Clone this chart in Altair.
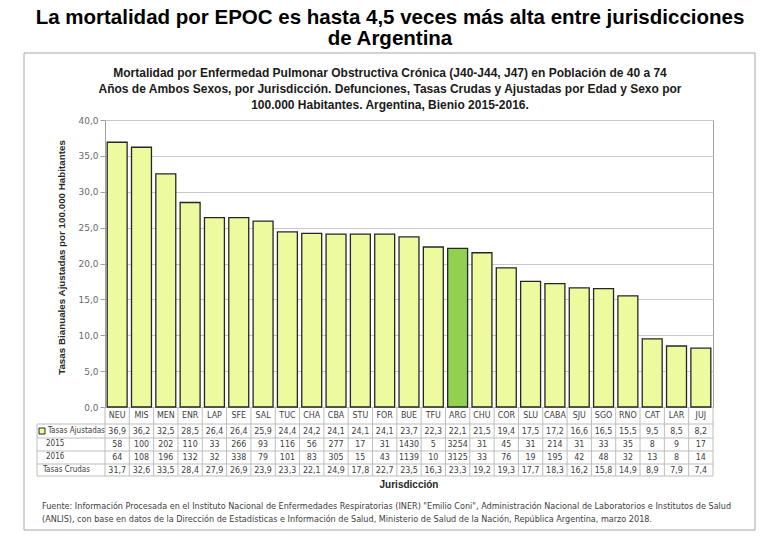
import altair as alt
import pandas as pd

# ---------------- data ----------------
cats = ["NEU", "MIS", "MEN", "ENR", "LAP", "SFE", "SAL", "TUC", "CHA", "CBA", "STU", "FOR", "BUE",
        "TFU", "ARG", "CHU", "COR", "SLU", "CABA", "SJU", "SGO", "RNO", "CAT", "LAR", "JUJ"]
tasas_ajustadas = [36.9, 36.2, 32.5, 28.5, 26.4, 26.4, 25.9, 24.4, 24.2, 24.1, 24.1, 24.1, 23.7,
                   22.3, 22.1, 21.5, 19.4, 17.5, 17.2, 16.6, 16.5, 15.5, 9.5, 8.5, 8.2]
def_2015 = [58, 100, 202, 110, 33, 266, 93, 116, 56, 277, 17, 31, 1430,
            5, 3254, 31, 45, 31, 214, 31, 33, 35, 8, 9, 17]
def_2016 = [64, 108, 196, 132, 32, 338, 79, 101, 83, 305, 15, 43, 1139,
            10, 3125, 33, 76, 19, 195, 42, 48, 32, 13, 8, 14]
tasas_crudas = [31.7, 32.6, 33.5, 28.4, 27.9, 26.9, 23.9, 23.3, 22.1, 24.9, 17.8, 22.7, 23.5,
                16.3, 23.3, 19.2, 19.3, 17.7, 18.3, 16.2, 15.8, 14.9, 8.9, 7.9, 7.4]
y_ticks = [0, 5, 10, 15, 20, 25, 30, 35, 40]

main_title = ["La mortalidad por EPOC es hasta 4,5 veces más alta entre jurisdicciones",
              "de Argentina"]
sub_title = ["Mortalidad por Enfermedad Pulmonar Obstructiva Crónica (J40-J44, J47) en Población de 40 a 74",
             "Años de Ambos Sexos, por Jurisdicción. Defunciones, Tasas Crudas y Ajustadas por Edad y Sexo por",
             "100.000 Habitantes. Argentina, Bienio 2015-2016."]
y_title = "Tasas Bianuales Ajustadas por 100.000 Habitantes"
x_title = "Jurisdicción"
row_labels = ["Tasas Ajustadas", "2015", "2016", "Tasas Crudas"]
footer = ["Fuente: Información Procesada en el Instituto Nacional de Enfermedades Respiratorias (INER) \"Emilio Coni\", Administración Nacional de Laboratorios e Institutos de Salud",
          "(ANLIS), con base en datos de la Dirección de Estadísticas e Información de Salud, Ministerio de Salud de la Nación, República Argentina, marzo 2018."]

def comma(v):
    return f"{v:.1f}".replace(".", ",")

df = pd.DataFrame({
    "cat": cats,
    "aj": tasas_ajustadas,
    "aj_l": [comma(v) for v in tasas_ajustadas],
    "d15": [str(v) for v in def_2015],
    "d16": [str(v) for v in def_2016],
    "cr_l": [comma(v) for v in tasas_crudas],
})
one = pd.DataFrame({"k": [0]})

# ---------------- style ----------------
W, H = 608, 287
BAR_FILL = "#EEFA9E"
ARG_FILL = "#92D050"
LINE = "#bdbdbd"
TFONT = "DejaVu Sans Condensed, Liberation Sans, sans-serif"
TXT = "#404040"

xscale = alt.Scale(paddingInner=0, paddingOuter=0)
xenc = alt.X("cat:N", sort=cats, axis=None, scale=xscale)
xedge = alt.X("cat:N", sort=cats, axis=None, scale=xscale, bandPosition=0)

# outer frame
frame = alt.Chart(one).mark_rect(fillOpacity=0, stroke="#a6a6a6", strokeWidth=1).encode(
    x=alt.value(-81), x2=alt.value(650), y=alt.value(-67), y2=alt.value(410))

bars = alt.Chart(df).mark_bar(width={"band": 0.82}, stroke="#262626", strokeWidth=1.3).encode(
    x=xenc,
    y=alt.Y("aj:Q", scale=alt.Scale(domain=[0, 40]),
            axis=alt.Axis(values=y_ticks, title=None, grid=True, gridColor="#c8c8c8",
                          domain=False, ticks=True, tickColor="#a0a0a0", tickSize=5,
                          labelExpr="replace(format(datum.value, '.1f'), '.', ',')",
                          labelColor="#6a6a6a", labelFont="DejaVu Sans", labelFontSize=9,
                          labelPadding=2)),
    color=alt.condition(alt.datum.cat == "ARG", alt.value(ARG_FILL), alt.value(BAR_FILL)),
)

layers = [frame, bars]

# table lines
for yy in [304, 318, 331, 344, 356]:
    layers.append(alt.Chart(one).mark_rule(color=LINE, strokeWidth=1).encode(
        x=alt.value(-68), x2=alt.value(W), y=alt.value(yy)))
layers.append(alt.Chart(df).mark_rule(color=LINE, strokeWidth=1).encode(
    x=xedge, y=alt.value(H), y2=alt.value(356)))
layers.append(alt.Chart(one).mark_rule(color=LINE, strokeWidth=1).encode(
    x=alt.value(W), y=alt.value(H), y2=alt.value(356)))
layers.append(alt.Chart(one).mark_rule(color=LINE, strokeWidth=1).encode(
    x=alt.value(-68), y=alt.value(304), y2=alt.value(356)))

# table texts
for field, yy in [("cat", 295), ("aj_l", 311), ("d15", 324), ("d16", 337), ("cr_l", 350)]:
    layers.append(alt.Chart(df).mark_text(font=TFONT, fontSize=8.8, color=TXT, baseline="middle").encode(
        x=xenc, y=alt.value(yy), text=f"{field}:N"))

# row labels
for lbl, xx, yy in [(row_labels[0], -57, 311), (row_labels[1], -59, 324),
                    (row_labels[2], -59, 337), (row_labels[3], -62, 350)]:
    layers.append(alt.Chart(one).mark_text(font=TFONT, fontSize=8, color=TXT, align="left",
                                           baseline="middle", text=lbl).encode(
        x=alt.value(xx), y=alt.value(yy)))

# legend square
layers.append(alt.Chart(one).mark_square(size=36, filled=True, fill=BAR_FILL, stroke="#262626",
                                         strokeWidth=1, opacity=1).encode(
    x=alt.value(-63), y=alt.value(311)))

# y-axis title
layers.append(alt.Chart(one).mark_text(font="Liberation Sans", fontSize=9.8, fontWeight="bold",
                                       color="#262626", angle=270, align="center",
                                       baseline="middle", text=y_title).encode(
    x=alt.value(-43), y=alt.value(H / 2 - 6)))

# x title
layers.append(alt.Chart(one).mark_text(font="Liberation Sans", fontSize=10, fontWeight="bold",
                                       color="#262626", align="center", baseline="middle",
                                       text=x_title).encode(
    x=alt.value(W / 2), y=alt.value(365)))

# subtitle inside frame
layers.append(alt.Chart(one).mark_text(font="Liberation Sans", fontSize=12, fontWeight="bold",
                                       color="#1a1a1a", align="center", baseline="middle",
                                       lineHeight=16, text=sub_title).encode(
    x=alt.value(285), y=alt.value(-47)))

# main title
layers.append(alt.Chart(one).mark_text(font="Liberation Sans", fontSize=20.5, fontWeight="bold",
                                       color="#000000", align="center", baseline="middle",
                                       lineHeight=21, text=main_title).encode(
    x=alt.value(285), y=alt.value(-102)))

# footer
layers.append(alt.Chart(one).mark_text(font=TFONT, fontSize=9, color=TXT, align="left",
                                       baseline="middle", lineHeight=13, text=footer).encode(
    x=alt.value(-63), y=alt.value(386)))

chart = alt.layer(*layers).properties(
    width=W, height=H,
    autosize=alt.AutoSizeParams(type="none"),
    padding={"left": 105, "top": 120, "right": 67, "bottom": 133},
    background="white",
).configure_view(stroke="#a0a0a0", strokeWidth=1)

chart.save("out.html", embed_options={"renderer": "svg", "actions": False})
